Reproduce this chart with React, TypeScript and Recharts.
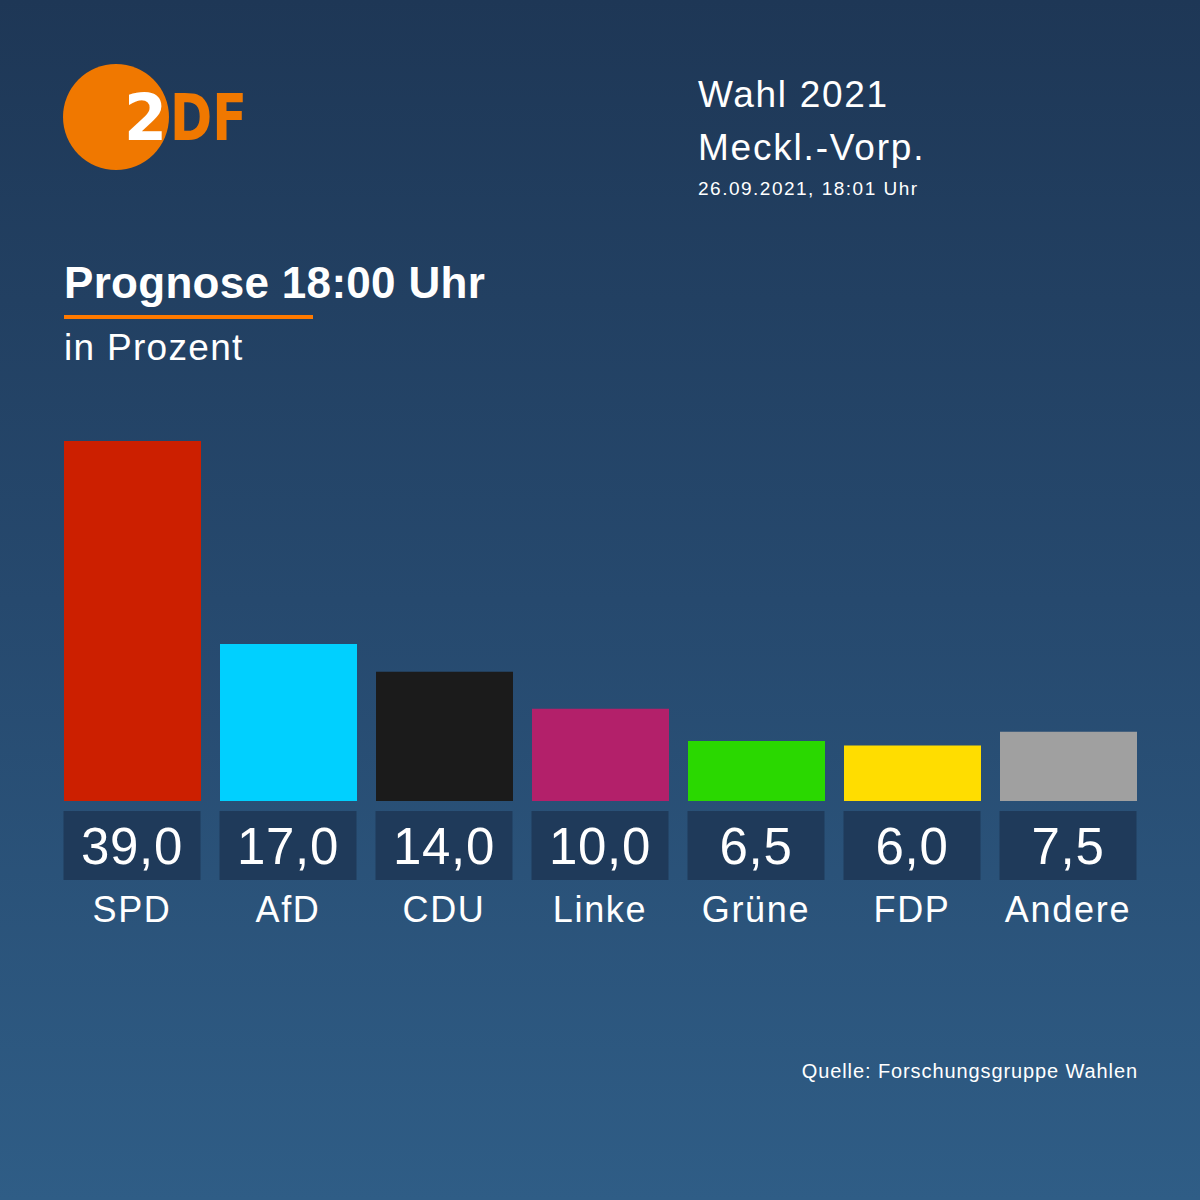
import React from 'react';
import { BarChart, Bar, XAxis, YAxis, Cell } from 'recharts';

const PARTIES = ['SPD', 'AfD', 'CDU', 'Linke', 'Grüne', 'FDP', 'Andere'];
const VALUES = [39.0, 17.0, 14.0, 10.0, 6.5, 6.0, 7.5];
const COLORS = ['#cc1f00', '#00d0ff', '#1b1b1b', '#b3206a', '#2ad800', '#ffdd00', '#a0a0a0'];

const data = PARTIES.map((name, i) => ({ name, value: VALUES[i] }));

const FONT = '"Liberation Sans", Arial, sans-serif';
const fmt = (v: number) => v.toFixed(1).replace('.', ',');

const PartyTick = (props: any) => {
  const { x, y, payload, index } = props;
  const v = VALUES[index ?? payload.index];
  return (
    <g>
      <rect x={x - 68.5} y={y + 10} width={137} height={69} fill="#1f3a5a" />
      <text x={x} y={y + 63} textAnchor="middle" fill="#fff" fontSize={51} letterSpacing={0.7} fontFamily={FONT}>{fmt(v)}</text>
      <text x={x} y={y + 121} textAnchor="middle" fill="#fff" fontSize={36} letterSpacing={1.7} fontFamily={FONT}>{payload.value}</text>
    </g>
  );
};

export default function App() {
  return (
    <div style={{ position: 'absolute', left: 0, top: 0, width: 1200, height: 1200, overflow: 'hidden',
      background: 'linear-gradient(180deg, #1e3756 0%, #26496e 50%, #2f5d86 100%)', fontFamily: FONT, color: '#fff' }}>
      <svg width={1200} height={1200} style={{ position: 'absolute', left: 0, top: 0 }}>
        <circle cx={116} cy={117} r={53} fill="#f07800" />
        <text x={124} y={140} fontFamily='"DejaVu Sans", sans-serif' fontWeight="bold" fontSize={64} fill="#fff" textLength={43} lengthAdjust="spacingAndGlyphs">2</text>
        <text x={170} y={140} fontFamily='"DejaVu Sans", sans-serif' fontWeight="bold" fontSize={64} fill="#f07800" textLength={77} lengthAdjust="spacingAndGlyphs">DF</text>
        <text x={698} y={107} fontSize={37} letterSpacing={1.7} fill="#fff">Wahl 2021</text>
        <text x={698} y={160} fontSize={37} letterSpacing={1.8} fill="#fff">Meckl.-Vorp.</text>
        <text x={698} y={195} fontSize={19} letterSpacing={1.5} fill="#fff">26.09.2021, 18:01 Uhr</text>
        <text x={64} y={298} fontSize={44} letterSpacing={0.3} fontWeight="bold" fill="#fff">Prognose 18:00 Uhr</text>
        <rect x={64} y={315} width={249} height={4} fill="#ff7a00" />
        <text x={64} y={360} fontSize={37} letterSpacing={1.3} fill="#fff">in Prozent</text>
        <text x={1138} y={1078} fontSize={20} letterSpacing={0.9} fill="#fff" textAnchor="end">Quelle: Forschungsgruppe Wahlen</text>
      </svg>
      <div style={{ position: 'absolute', left: 0, top: 0 }}>
        <BarChart width={1200} height={960} data={data} margin={{ top: 441, right: 54, bottom: 0, left: 54 }}>
          <YAxis hide domain={[0, 39]} />
          <XAxis dataKey="name" axisLine={false} tickLine={false} tickSize={0} tickMargin={0} height={159}
            interval={0} tick={<PartyTick />} />
          <Bar dataKey="value" barSize={137} isAnimationActive={false}>
            {data.map((d, i) => <Cell key={d.name} fill={COLORS[i]} />)}
          </Bar>
        </BarChart>
      </div>
    </div>
  );
}
